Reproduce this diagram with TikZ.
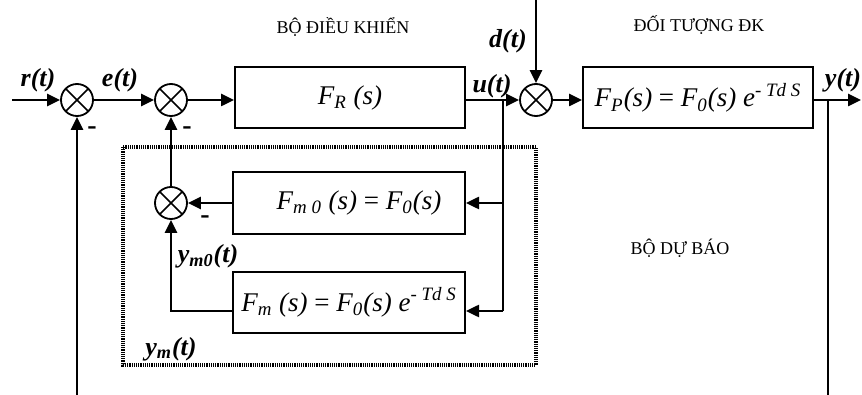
\documentclass[tikz,border=0pt]{standalone}
\usepackage{fontspec}
\setmainfont{Liberation Serif}
\usetikzlibrary{arrows.meta}

\begin{document}
\begin{tikzpicture}[x=0.5pt, y=-0.5pt, line width=1.25pt,
        >={Triangle[length=6.5pt,width=6pt]},
        sum/.style = {shape=circle, draw, line width=0.9pt, minimum size=16pt, inner sep=0pt,
            path picture={\draw[line width=0.8pt]
                (path picture bounding box.north west) -- (path picture bounding box.south east)
                (path picture bounding box.north east) -- (path picture bounding box.south west);}},
        block/.style = {shape=rectangle, draw, line width=1pt, minimum width=115pt, minimum height=30.5pt,
            font=\fontsize{13.5}{15}\selectfont\itshape},
        sig/.style = {font=\fontsize{13}{15}\selectfont\bfseries\itshape, inner sep=0pt},
        title/.style = {font=\fontsize{9}{11}\selectfont, inner sep=0pt},
        minus/.style = {font=\fontsize{14}{15}\selectfont\bfseries, inner sep=0pt}]
    \useasboundingbox (0,0) rectangle (862,395);

    % summing points
    \node[sum] (s1) at (77,100) {};
    \node[sum] (s2) at (171,100) {};
    \node[sum] (s3) at (536,100) {};
    \node[sum] (s4) at (171,203) {};

    % blocks
    \node[block] (FR) at (350,98) {F\textsubscript{R} (s)\hspace{6pt}};
    \node[block] (FP) at (698,98) {F\textsubscript{P}(s) {\upshape =} F\textsubscript{0}(s) e\textsuperscript{- Td S}};
    \node[block, minimum width=116pt, minimum height=31pt] (Fm0) at (349,203)
        {\hspace{10pt}F\textsubscript{m 0} (s) {\upshape =} F\textsubscript{0}(s)};
    \node[block, minimum width=116pt] (Fm) at (349,302.5)
        {F\textsubscript{m} (s) {\upshape =} F\textsubscript{0}(s) e\textsuperscript{- Td S}};

    % free ends and corners
    \coordinate (in) at (12,100);
    \coordinate (dtop) at (536,0);
    \coordinate (out) at (861,100);
    \coordinate (ybr) at (828,100);
    \coordinate (ybot) at (828,395);
    \coordinate (fbot) at (77,395);
    \coordinate (ubr) at (503,100);
    \coordinate (ulow) at (503,311);
    \coordinate (mcorner) at (171,311);

    % forward path
    \draw[->] (in) -- (s1);
    \draw[->] (s1) -- (s2);
    \draw[->] (s2) -- (s2 -| FR.west);
    \draw[->] (s2 -| FR.east) -- (s3);
    \draw[->] (dtop) -- (s3);
    \draw[->] (s3) -- (s3 -| FP.west);
    \draw[->] (s3 -| FP.east) -- (out);

    % feedback
    \draw (ybr) -- (ybot);
    \draw[->] (fbot) -- (s1);

    % predictor
    \draw (ubr) -- (ulow);
    \draw[->] (ubr |- Fm0) -- (Fm0);
    \draw[->] (ulow) -- (ulow -| Fm.east);
    \draw[->] (Fm0) -- (s4);
    \draw[->] (ulow -| Fm.west) -- (mcorner) -- (s4);
    \draw[->] (s4) -- (s2);
    \draw[line width=1.8pt, dash pattern=on 0.6pt off 0.5pt] (123,147) rectangle (536,365);

    % signals
    \node[sig] (r) at (38,80) {r(t)};
    \node[sig] (e) at (120,80) {e(t)};
    \node[sig] (u) at (492,86) {u(t)};
    \node[sig] (d) at (508,41) {d(t)};
    \node[sig] (y) at (843,80) {y(t)};
    \node[sig] (ym0) at (208,256) {y\textsubscript{m0}(t)};
    \node[sig] (ym) at (171,349) {y\textsubscript{m}(t)};

    \node[minus] (m1) at (92,131) {-};
    \node[minus] (m2) at (187,131) {-};
    \node[minus] (m4) at (205,220) {-};

    % titles
    \node[title] (ctrl) at (343,27) {BỘ ĐIỀU KHIỂN};
    \node[title] (plant) at (699,25) {ĐỐI TƯỢNG ĐK};
    \node[title] (pred) at (680,248) {BỘ DỰ BÁO};
\end{tikzpicture}
\end{document}
